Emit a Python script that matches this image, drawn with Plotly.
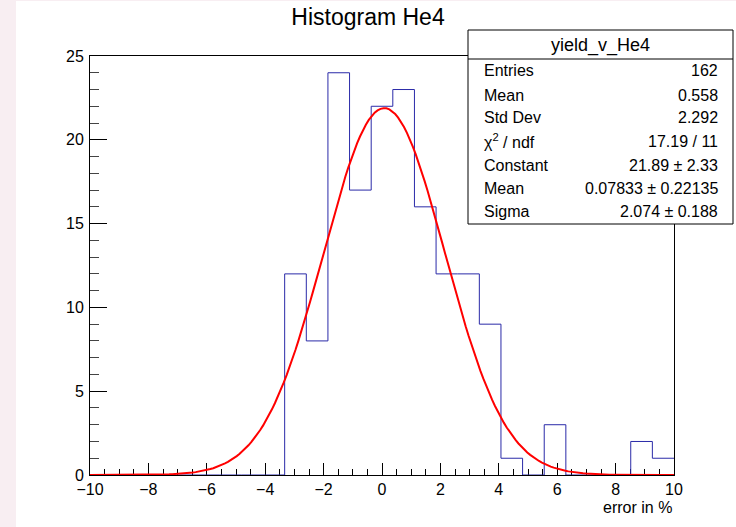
import numpy as np
import plotly.graph_objects as go

# ---- data ----
x_min, x_max, n_bins = -10.0, 10.0, 27
counts = [0, 0, 0, 0, 0, 0, 0, 0, 0, 12, 8, 24, 17, 22, 23, 16, 12, 12, 9, 1, 0, 3, 0, 0, 0, 2, 1]
fit_constant, fit_mean, fit_sigma = 21.89, 0.07833, 2.074
stats_labels = ["Entries", "Mean", "Std Dev", "χ<sup>2</sup> / ndf", "Constant", "Mean", "Sigma"]
stats_values = ["162", "0.558", "2.292", "17.19 / 11", "21.89 ± 2.33", "0.07833 ± 0.22135", "2.074 ± 0.188"]
stats_title = "yield_v_He4"
x_tick_vals = [-10, -8, -6, -4, -2, 0, 2, 4, 6, 8, 10]
y_tick_vals = [0, 5, 10, 15, 20, 25]

# ---- layout geometry (pixels) ----
W, H = 736, 527
L, R, T, B = 90, 674, 56, 475
FONT = "Liberation Sans, Arial, Helvetica, sans-serif"


def px(xp):
    return (xp - L) / (R - L)


def py(yp):
    return (B - yp) / (B - T)


edges = np.linspace(x_min, x_max, n_bins + 1)
hx = list(edges)
hy = list(counts) + [counts[-1]]

fx = np.linspace(x_min, x_max, 200)
fy = fit_constant * np.exp(-0.5 * ((fx - fit_mean) / fit_sigma) ** 2)

fig = go.Figure()
fig.add_trace(go.Scatter(x=hx, y=hy, mode="lines", line=dict(shape="hv", color="#2a2aa8", width=1),
                         hoverinfo="skip", showlegend=False))
fig.add_trace(go.Scatter(x=fx, y=fy, mode="lines", line=dict(color="#ff0000", width=2),
                         hoverinfo="skip", showlegend=False))

tick_font = dict(family=FONT, size=16, color="black")
axis_common = dict(showgrid=False, zeroline=False, showline=True, linecolor="black", linewidth=1,
                   mirror=True, ticks="inside", tickcolor="black", tickwidth=1, layer="below traces")

fig.update_xaxes(range=[x_min, x_max], tickvals=x_tick_vals,
                 ticktext=[f"{v:g}".replace("-", "\u2212") for v in x_tick_vals],
                 ticklen=12, tickfont=tick_font,
                 minor=dict(dtick=0.5, ticklen=6, ticks="inside", tickcolor="black", showgrid=False),
                 ticklabelstandoff=0, **axis_common)
fig.update_yaxes(range=[0, 25], tickvals=y_tick_vals, ticktext=[str(v) for v in y_tick_vals],
                 ticklen=17, tickfont=tick_font,
                 minor=dict(dtick=1, ticklen=9, ticks="inside", tickcolor="#444", showgrid=False),
                 ticklabelstandoff=2, **axis_common)

shapes = []
# pink strip on the left and top
shapes.append(dict(type="rect", xref="paper", yref="paper", x0=px(0), x1=px(16), y0=py(H), y1=py(0),
                   fillcolor="#f8eef2", line=dict(width=0), layer="below"))
shapes.append(dict(type="rect", xref="paper", yref="paper", x0=px(0), x1=px(W), y0=py(1), y1=py(0),
                   fillcolor="#f8eef2", line=dict(width=0), layer="below"))
# stats box
bx0, bx1, by0, by1, bsep = 468, 733, 30, 224, 59
shapes.append(dict(type="rect", xref="paper", yref="paper", x0=px(bx0), x1=px(bx1), y0=py(by1), y1=py(by0),
                   fillcolor="white", line=dict(color="black", width=1), layer="above"))
shapes.append(dict(type="line", xref="paper", yref="paper", x0=px(bx0), x1=px(bx1), y0=py(bsep), y1=py(bsep),
                   line=dict(color="black", width=1), layer="above"))

ann = []
ann.append(dict(text=stats_title, xref="paper", yref="paper", x=px((bx0 + bx1) / 2), y=py(45),
                xanchor="center", yanchor="middle", showarrow=False,
                font=dict(family=FONT, size=18, color="black")))
row_y = [71, 95, 118, 141, 165, 188, 212]
for lab, val, yy in zip(stats_labels, stats_values, row_y):
    ann.append(dict(text=lab, xref="paper", yref="paper", x=px(482), y=py(yy), xanchor="left",
                    yanchor="middle", showarrow=False, font=dict(family=FONT, size=16, color="black")))
    ann.append(dict(text=val, xref="paper", yref="paper", x=px(720), y=py(yy), xanchor="right",
                    yanchor="middle", showarrow=False, font=dict(family=FONT, size=16, color="black")))
# axis title
ann.append(dict(text="error in %", xref="paper", yref="paper", x=1, y=py(507), xanchor="right",
                yanchor="middle", showarrow=False, font=dict(family=FONT, size=16, color="black")))

fig.update_layout(
    width=W, height=H,
    margin=dict(l=L, r=W - R, t=T, b=H - B, pad=0),
    paper_bgcolor="white", plot_bgcolor="white",
    title=dict(text="Histogram He4", x=0.5, xref="container", xanchor="center",
               y=1 - 17 / H, yref="container", yanchor="middle",
               font=dict(family=FONT, size=23, color="black")),
    shapes=shapes, annotations=ann, showlegend=False,
)

fig.write_html("out.html")
